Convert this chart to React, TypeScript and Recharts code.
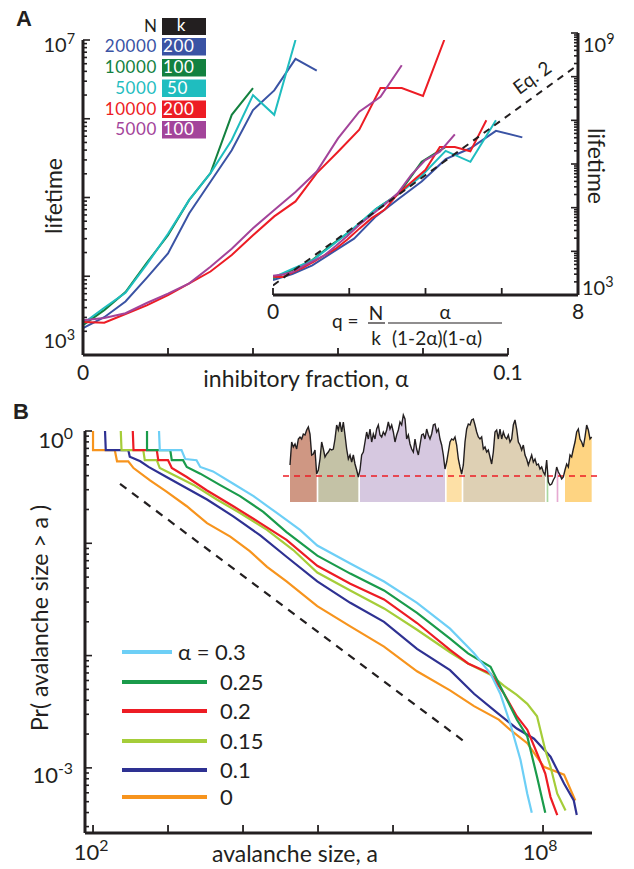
import React from "react";
import { LineChart, Line, XAxis, YAxis, ComposedChart, Area, ReferenceLine } from "recharts";

const INK = "#231f20";
const FONT = "Lato, 'Noto Sans', sans-serif";
const W = 634;
const H = 869;
const AX = 40; // room reserved for each drawn axis

// ---------- panel A: lifetime vs inhibitory fraction ----------
// alpha sampled every 0.005; lifetimes stored as log10(lifetime)
const alphaSteps = [
  0, 0.005, 0.01, 0.015, 0.02, 0.025, 0.03, 0.035, 0.04, 0.045, 0.05, 0.055, 0.06, 0.065, 0.07,
  0.075, 0.08, 0.085,
];
const lifeN20000k200 = [3.34, 3.48, 3.68, 3.98, 4.29, 4.8, 5.2, 5.6, 6.11, 6.36, 6.76, 6.61];
const lifeN10000k100 = [3.38, 3.57, 3.8, 4.17, 4.52, 4.97, 5.31, 6.05, 6.39];
const lifeN5000k50 = [3.4, 3.6, 3.79, 4.15, 4.54, 4.97, 5.31, 5.73, 6.3, 6.05, 7.0];
const lifeN10000k200 = [
  3.42, 3.41, 3.52, 3.63, 3.76, 3.91, 4.06, 4.27, 4.52, 4.76, 4.95, 5.31, 5.58, 5.86, 6.39, 6.39,
  6.29, 7.0,
];
const lifeN5000k100 = [
  3.44, 3.47, 3.53, 3.66, 3.78, 3.91, 4.12, 4.35, 4.61, 4.84, 5.07, 5.33, 5.75, 6.09, 6.28, 6.68,
];

const netsA = [
  { N: 20000, k: 200, color: "#3a53a4", life: lifeN20000k200 },
  { N: 10000, k: 100, color: "#13813f", life: lifeN10000k100 },
  { N: 5000, k: 50, color: "#1fbdbf", life: lifeN5000k50 },
  { N: 10000, k: 200, color: "#ed1c24", life: lifeN10000k200 },
  { N: 5000, k: 100, color: "#a3449a", life: lifeN5000k100 },
];

// Eq. 2 prediction in the inset (q, log10 lifetime)
const eq2Q = [0, 8];
const eq2Life = [3.22, 8.27];

// ---------- panel B: avalanche size distributions ----------
// [log10 a, log10 Pr(size > a)]
const ccdf03: [number, number][] = [
  [2.88, 0], [2.89, -0.17], [3.18, -0.17], [3.23, -0.25], [3.38, -0.26], [3.43, -0.32], [3.6, -0.36],
  [3.87, -0.47], [4.14, -0.58], [4.45, -0.73], [4.76, -0.88], [4.99, -1.02], [5.43, -1.18],
  [5.88, -1.34], [6.32, -1.53], [6.76, -1.76], [7.08, -1.98], [7.3, -2.16], [7.43, -2.34],
  [7.56, -2.6], [7.7, -2.93], [7.79, -3.23], [7.85, -3.4],
];
const ccdf025: [number, number][] = [
  [2.72, 0], [2.72, -0.17], [3.03, -0.17], [3.05, -0.26], [3.2, -0.26], [3.25, -0.32], [3.43, -0.38],
  [3.69, -0.48], [3.96, -0.58], [4.27, -0.72], [4.58, -0.9], [4.99, -1.11], [5.43, -1.27],
  [5.88, -1.42], [6.32, -1.62], [6.76, -1.85], [7.0, -1.98], [7.3, -2.1], [7.48, -2.34],
  [7.65, -2.57], [7.79, -2.72], [7.92, -3.08], [8.03, -3.4],
];
const ccdf02: [number, number][] = [
  [2.53, 0], [2.54, -0.17], [2.85, -0.17], [2.87, -0.26], [3.0, -0.26], [3.05, -0.33], [3.25, -0.41],
  [3.52, -0.53], [3.87, -0.67], [4.23, -0.82], [4.58, -0.97], [4.99, -1.2], [5.43, -1.36],
  [5.88, -1.5], [6.32, -1.71], [6.76, -1.95], [7.0, -2.07], [7.3, -2.16], [7.48, -2.34],
  [7.65, -2.54], [7.79, -2.66], [7.92, -2.87], [8.03, -3.05], [8.1, -3.26], [8.19, -3.42],
];
const ccdf015: [number, number][] = [
  [2.37, 0], [2.38, -0.17], [2.67, -0.17], [2.69, -0.26], [2.85, -0.26], [2.89, -0.33], [3.07, -0.39],
  [3.34, -0.48], [3.65, -0.61], [3.96, -0.73], [4.32, -0.88], [4.67, -1.06], [4.99, -1.26],
  [5.43, -1.42], [5.88, -1.58], [6.32, -1.77], [6.76, -1.97], [7.0, -2.07], [7.3, -2.17],
  [7.48, -2.27], [7.65, -2.35], [7.79, -2.43], [7.92, -2.54], [8.03, -2.84], [8.1, -2.99],
  [8.19, -3.23], [8.3, -3.38],
];
const ccdf01: [number, number][] = [
  [2.16, 0], [2.17, -0.17], [2.47, -0.17], [2.49, -0.23], [2.63, -0.27], [2.74, -0.32], [2.98, -0.41],
  [3.25, -0.51], [3.52, -0.61], [3.87, -0.76], [4.23, -0.93], [4.58, -1.12], [4.99, -1.34],
  [5.43, -1.53], [5.88, -1.7], [6.32, -1.94], [6.76, -2.13], [7.08, -2.34], [7.39, -2.51],
  [7.65, -2.65], [7.88, -2.74], [8.1, -2.9], [8.28, -3.14], [8.41, -3.29], [8.45, -3.42],
];
const ccdf0: [number, number][] = [
  [2.0, 0], [2.0, -0.17], [2.29, -0.17], [2.32, -0.27], [2.47, -0.27], [2.54, -0.33], [2.76, -0.44],
  [2.98, -0.54], [3.25, -0.67], [3.52, -0.82], [3.83, -0.94], [4.09, -1.07], [4.32, -1.21],
  [4.58, -1.34], [4.99, -1.56], [5.43, -1.74], [5.88, -1.92], [6.32, -2.14], [6.76, -2.31],
  [7.08, -2.45], [7.41, -2.57], [7.56, -2.66], [7.79, -2.78], [8.01, -2.99], [8.28, -3.06],
  [8.43, -3.29],
];
const powerLawGuide: [number, number][] = [[2.36, -0.47], [6.96, -2.77]];

const seriesB = [
  { label: "0.3", color: "#6dcff6", pts: ccdf03 },
  { label: "0.25", color: "#1a9b4b", pts: ccdf025 },
  { label: "0.2", color: "#ed1c24", pts: ccdf02 },
  { label: "0.15", color: "#a5cd39", pts: ccdf015 },
  { label: "0.1", color: "#2e3192", pts: ccdf01 },
  { label: "0", color: "#f7941d", pts: ccdf0 },
];

// inset trace: network activity (arbitrary units), threshold and avalanche segments
const traceActivity = [
  37, 60, 55, 58, 53, 63, 65, 63, 68, 67, 72, 75, 68, 47, 48, 52, 28, 32, 43, 60, 53, 45, 48, 50, 53,
  52, 53, 63, 77, 72, 80, 70, 80, 67, 53, 43, 47, 40, 47, 38, 32, 25, 32, 47, 50, 60, 70, 63, 73, 60,
  68, 63, 73, 77, 67, 65, 70, 67, 72, 80, 73, 77, 70, 60, 67, 72, 80, 77, 87, 83, 63, 67, 58, 53, 50,
  63, 53, 47, 57, 67, 68, 63, 73, 67, 63, 68, 77, 78, 70, 73, 63, 57, 47, 33, 40, 50, 60, 63, 62, 65,
  57, 43, 35, 28, 37, 60, 73, 78, 77, 82, 83, 77, 70, 65, 63, 65, 53, 55, 50, 52, 45, 38, 50, 70, 72,
  63, 73, 63, 70, 65, 63, 67, 60, 63, 77, 82, 73, 60, 57, 52, 57, 47, 43, 37, 42, 47, 40, 43, 37, 38,
  33, 35, 30, 27, 42, 20, 17, 18, 22, 25, 35, 30, 27, 23, 25, 32, 38, 35, 47, 45, 53, 60, 70, 73, 63,
  60, 55, 65, 77, 72, 63, 65,
];
const traceThreshold = 26;
const traceSegments: [number, number][] = [
  [0, 16], [17, 41], [42, 93], [94, 103], [104, 153], [154, 155], [160, 161], [165, 181],
];
const segmentColors = [
  "#cf9783", "#c4c2a6", "#d6c8e0", "#fde0a6", "#ded0b4", "#aad7a0", "#e6aad2", "#fed482",
];

// ---------- helpers ----------
const toXY = (pts: [number, number][]) => pts.map(([x, y]) => ({ x, y }));
const qOf = (N: number, k: number, a: number) => (N / k) * (a / ((1 - 2 * a) * (1 - a)));

const logTicks = (lo: number, hi: number) => {
  const out: number[] = [];
  for (let n = Math.floor(lo); n <= Math.ceil(hi); n++) {
    for (let m = 1; m <= 9; m++) {
      const t = n + Math.log10(m);
      if (t >= lo - 1e-9 && t <= hi + 1e-9) out.push(t);
    }
  }
  return out;
};
const isMajor = (v: number) => Math.abs(v - Math.round(v)) < 1e-6;

type TickText = { text: string; exp?: string; dx?: number; dy?: number } | null;

const TickLabel = ({ x, y, t, anchor, size }: any) => {
  if (!t) return null;
  return (
    <text
      x={x + (t.dx ?? 0)}
      y={y + (t.dy ?? 0)}
      textAnchor={anchor}
      fontFamily={FONT}
      fontSize={size}
      fill={INK}
    >
      {t.text}
      {t.exp && (
        <tspan dy={-size * 0.42} fontSize={size * 0.72}>
          {t.exp}
        </tspan>
      )}
    </text>
  );
};

// ticks point into the plot; labels only where the reference has them
const bottomTick =
  (axisY: number, len: number, size: number, label: (v: number) => TickText) => (p: any) => (
    <g>
      <line x1={p.x} x2={p.x} y1={axisY} y2={axisY - len} stroke={INK} strokeWidth={1.8} />
      <TickLabel x={p.x} y={axisY} t={label(p.payload.value)} anchor="middle" size={size} />
    </g>
  );

const sideTick =
  (axisX: number, dir: 1 | -1, size: number, label: (v: number) => TickText) => (p: any) => {
    const major = isMajor(p.payload.value);
    return (
      <g>
        <line
          x1={axisX}
          x2={axisX + dir * (major ? 7 : 4)}
          y1={p.y}
          y2={p.y}
          stroke={INK}
          strokeWidth={1.6}
        />
        <TickLabel
          x={axisX}
          y={p.y}
          t={major ? label(Math.round(p.payload.value)) : null}
          anchor={dir === 1 ? "end" : "start"}
          size={size}
        />
      </g>
    );
  };

const axisLine = { stroke: INK, strokeWidth: 3 };
const Layer = ({ children }: { children: React.ReactNode }) => (
  <div style={{ position: "absolute", left: 0, top: 0 }}>{children}</div>
);

// ---------- panels ----------
const PanelAMain = () => (
  <LineChart width={W} height={H} margin={{ top: 40, left: 83 - AX, right: 126, bottom: 514 - AX }}>
    <XAxis
      type="number"
      dataKey="x"
      domain={[0, 0.1]}
      ticks={[0, 0.02, 0.04, 0.06, 0.08, 0.1]}
      interval={0}
      height={AX}
      allowDataOverflow
      axisLine={axisLine}
      tickLine={false}
      tick={bottomTick(355, 7, 21, (v) =>
        v === 0 ? { text: "0", dy: 25 } : Math.abs(v - 0.1) < 1e-9 ? { text: "0.1", dy: 25 } : null
      )}
    />
    <YAxis
      type="number"
      domain={[3, 7]}
      ticks={logTicks(3, 7)}
      interval={0}
      width={AX}
      allowDataOverflow
      axisLine={axisLine}
      tickLine={false}
      tick={sideTick(83, 1, 20, (v) =>
        v === 7
          ? { text: "10", exp: "7", dx: -8, dy: 12 }
          : v === 3
          ? { text: "10", exp: "3", dx: -8, dy: -7 }
          : null
      )}
    />
    {netsA.map((n) => (
      <Line
        key={`${n.N}-${n.k}`}
        data={n.life.map((y, i) => ({ x: alphaSteps[i], y }))}
        dataKey="y"
        stroke={n.color}
        strokeWidth={2}
        dot={false}
        activeDot={false}
        isAnimationActive={false}
      />
    ))}
  </LineChart>
);

const PanelAInset = () => (
  <LineChart width={W} height={H} margin={{ top: 33, left: 273, right: 56 - AX, bottom: 574 - AX }}>
    <XAxis
      type="number"
      dataKey="x"
      domain={[0, 8]}
      ticks={[0, 2, 4, 6, 8]}
      interval={0}
      height={AX}
      allowDataOverflow
      axisLine={axisLine}
      tickLine={false}
      tick={bottomTick(295, 7, 21, (v) =>
        v === 0 ? { text: "0", dy: 24 } : v === 8 ? { text: "8", dy: 24 } : null
      )}
    />
    <YAxis
      type="number"
      orientation="right"
      domain={[3, 9]}
      ticks={logTicks(3, 9)}
      interval={0}
      width={AX}
      allowDataOverflow
      axisLine={axisLine}
      tickLine={false}
      tick={sideTick(578, -1, 20, (v) =>
        v === 9
          ? { text: "10", exp: "9", dx: 5, dy: 19 }
          : v === 3
          ? { text: "10", exp: "3", dx: 4, dy: 0 }
          : null
      )}
    />
    {netsA.map((n) => (
      <Line
        key={`q-${n.N}-${n.k}`}
        data={n.life.map((y, i) => ({ x: qOf(n.N, n.k, alphaSteps[i]), y }))}
        dataKey="y"
        stroke={n.color}
        strokeWidth={2}
        dot={false}
        activeDot={false}
        isAnimationActive={false}
      />
    ))}
    <Line
      data={eq2Q.map((x, i) => ({ x, y: eq2Life[i] }))}
      dataKey="y"
      stroke={INK}
      strokeWidth={2}
      strokeDasharray="7 6"
      dot={false}
      activeDot={false}
      isAnimationActive={false}
    />
  </LineChart>
);

const PanelBMain = () => (
  <LineChart width={W} height={H} margin={{ top: 431, left: 85 - AX, right: 42, bottom: 36 - AX / 2 }}>
    <XAxis
      type="number"
      dataKey="x"
      domain={[1.893, 8.653]}
      ticks={[2, 3, 4, 5, 6, 7, 8]}
      interval={0}
      height={AX / 2}
      allowDataOverflow
      axisLine={axisLine}
      tickLine={false}
      tick={bottomTick(833, 8, 22, (v) =>
        v === 2
          ? { text: "10", exp: "2", dx: -2, dy: 27 }
          : v === 8
          ? { text: "10", exp: "8", dx: -3, dy: 27 }
          : null
      )}
    />
    <YAxis
      type="number"
      domain={[-3.58, 0]}
      ticks={logTicks(-3.58, 0)}
      interval={0}
      width={AX}
      allowDataOverflow
      axisLine={axisLine}
      tickLine={false}
      tick={sideTick(85, 1, 22, (v) =>
        v === 0
          ? { text: "10", exp: "0", dx: -12, dy: 17 }
          : v === -3
          ? { text: "10", exp: "-3", dx: -12, dy: 15 }
          : null
      )}
    />
    <Line
      data={toXY(powerLawGuide)}
      dataKey="y"
      stroke={INK}
      strokeWidth={2.2}
      strokeDasharray="8 7"
      dot={false}
      activeDot={false}
      isAnimationActive={false}
    />
    {[...seriesB].reverse().map((s) => (
      <Line
        key={s.label}
        data={toXY(s.pts)}
        dataKey="y"
        stroke={s.color}
        strokeWidth={2.2}
        dot={false}
        activeDot={false}
        isAnimationActive={false}
      />
    ))}
  </LineChart>
);

const traceRows = traceActivity.map((v, i) => {
  const row: Record<string, number | null> = { i, v };
  traceSegments.forEach(([s, e], j) => {
    row[`s${j}`] = i >= s && i <= e ? v : null;
  });
  return row;
});

const PanelBInset = () => (
  <ComposedChart
    width={W}
    height={H}
    data={traceRows}
    margin={{ top: 410, left: 283, right: 34, bottom: 367 }}
  >
    <XAxis type="number" dataKey="i" domain={[-4.2, 186]} hide />
    <YAxis type="number" domain={[0, 92]} hide />
    {traceSegments.map((_, j) => (
      <Area
        key={j}
        dataKey={`s${j}`}
        type="linear"
        stroke="none"
        fill={segmentColors[j]}
        fillOpacity={1}
        connectNulls={false}
        dot={false}
        activeDot={false}
        isAnimationActive={false}
      />
    ))}
    <ReferenceLine y={traceThreshold} stroke="#ed1c24" strokeWidth={1.3} strokeDasharray="6 5" />
    <Line
      dataKey="v"
      type="linear"
      stroke={INK}
      strokeWidth={1.4}
      dot={false}
      activeDot={false}
      isAnimationActive={false}
    />
  </ComposedChart>
);

const legendRowsA = [38, 59, 79.5, 100.5, 121];
const legendRowsB = [652, 682, 711, 741, 770, 797];

const Annotations = () => (
  <svg
    width={W}
    height={H}
    style={{ position: "absolute", left: 0, top: 0, pointerEvents: "none" }}
    fontFamily={FONT}
    fill={INK}
  >
    <text x={16} y={26} fontFamily="Arial, 'Liberation Sans', sans-serif" fontWeight="bold" fontSize={22}>
      A
    </text>
    <text x={13} y={419} fontFamily="Arial, 'Liberation Sans', sans-serif" fontWeight="bold" fontSize={22}>
      B
    </text>

    {/* panel A titles */}
    <text transform="translate(62,196) rotate(-90)" textAnchor="middle" fontSize={23}>
      lifetime
    </text>
    <text transform="translate(588,166) rotate(90)" textAnchor="middle" fontSize={23}>
      lifetime
    </text>
    <text x={306} y={387} textAnchor="middle" fontSize={23}>
      inhibitory fraction, α
    </text>
    <text transform="translate(536,83) rotate(-36)" textAnchor="middle" fontSize={19}>
      Eq. 2
    </text>

    {/* q formula */}
    <text x={332} y={328} fontSize={19}>
      q =
    </text>
    <text x={376} y={320} textAnchor="middle" fontSize={19}>
      N
    </text>
    <line x1={368} x2={385} y1={323} y2={323} stroke={INK} strokeWidth={1.2} />
    <text x={376} y={345} textAnchor="middle" fontSize={19}>
      k
    </text>
    <text x={445} y={319} textAnchor="middle" fontSize={19}>
      α
    </text>
    <line x1={388} x2={502} y1={323} y2={323} stroke={INK} strokeWidth={1.2} />
    <text x={437} y={345} textAnchor="middle" fontSize={19}>
      (1-2α)(1-α)
    </text>

    {/* panel A legend */}
    <text x={157} y={31.5} textAnchor="end" fontSize={17}>
      N
    </text>
    <rect x={162} y={18} width={44} height={17} fill={INK} />
    <text x={181} y={31} textAnchor="middle" fontSize={17} fill="#fff">
      k
    </text>
    {netsA.map((n, i) => (
      <g key={`lg-${i}`}>
        <text
          x={157}
          y={legendRowsA[i] + 14}
          textAnchor="end"
          fontSize={17}
          letterSpacing={0.6}
          fill={n.color}
        >
          {n.N}
        </text>
        <rect x={162} y={legendRowsA[i]} width={44} height={17.5} fill={n.color} />
        <text
          x={n.k < 100 ? 167 : 163}
          y={legendRowsA[i] + 14}
          fontSize={17}
          letterSpacing={0.6}
          fill="#fff"
        >
          {n.k}
        </text>
      </g>
    ))}

    {/* panel B titles */}
    <text transform="translate(48,618) rotate(-90)" textAnchor="middle" fontSize={23}>
      Pr( avalanche size &gt; a )
    </text>
    <text x={295} y={862} textAnchor="middle" fontSize={23}>
      avalanche size, a
    </text>

    {/* panel B legend */}
    {seriesB.map((s, i) => (
      <g key={`lb-${i}`}>
        <line
          x1={122}
          x2={i === 0 ? 172 : 207}
          y1={legendRowsB[i]}
          y2={legendRowsB[i]}
          stroke={s.color}
          strokeWidth={4}
        />
        <text x={i === 0 ? 178 : 220} y={legendRowsB[i] + 8} fontSize={22}>
          {i === 0 ? `α = ${s.label}` : s.label}
        </text>
      </g>
    ))}
  </svg>
);

export default function App() {
  return (
    <div style={{ position: "absolute", left: 0, top: 0, width: W, height: H, background: "#fff" }}>
      <Layer>
        <PanelAMain />
      </Layer>
      <Layer>
        <PanelAInset />
      </Layer>
      <Layer>
        <PanelBMain />
      </Layer>
      <Layer>
        <PanelBInset />
      </Layer>
      <Annotations />
    </div>
  );
}
